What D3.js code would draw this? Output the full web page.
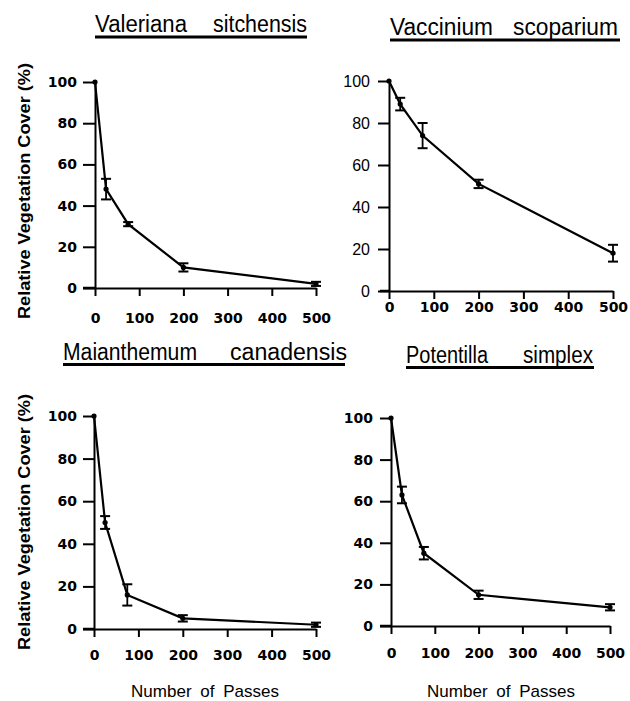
<!DOCTYPE html>
<html>
<head>
<meta charset="utf-8">
<script src="https://cdn.jsdelivr.net/npm/d3@7"></script>
<style>
  body { margin: 0; background: #fff; }
  svg { display: block; }
  .domain, .tick line { stroke: #000; stroke-width: 2; }
</style>
</head>
<body>
<svg class="chart" width="630" height="701"></svg>
<script>
// Data
const passes = [0, 25, 75, 200, 500];
const species = ["Valeriana sitchensis", "Vaccinium scoparium", "Maianthemum canadensis", "Potentilla simplex"];

const valerianaCover = [100, 48, 31, 10, 2];
const valerianaErr   = [0, 5, 1, 2, 1];
const vacciniumCover = [100, 89, 74, 51, 18];
const vacciniumErr   = [0, 3, 6, 2, 4];
const maianthemumCover = [100, 50, 16, 5, 2];
const maianthemumErr   = [0, 3, 5, 1.5, 1];
const potentillaCover = [100, 63, 35, 15, 9];
const potentillaErr   = [0, 4, 3, 2, 1.5];

const xTicks = [0, 100, 200, 300, 400, 500];
const yTicks = [0, 20, 40, 60, 80, 100];
const yTitle = "Relative Vegetation Cover (%)";
const xTitle = "Number of Passes";

const panels = [
  { cover: valerianaCover, err: valerianaErr, left: 95, right: 316, bottom: 288, top: 82,
    boldY: true, yTickSize: 12, yPad: 6, xPad: 17, axisLeftExt: 12,
    words: [[95, 187], [213, 307]], titleY: 32, lineY: 37, lineX: [95, 307],
    yTitlePos: [24, 191], xTitlePos: null },
  { cover: vacciniumCover, err: vacciniumErr, left: 389, right: 613, bottom: 291, top: 81,
    boldY: false, yTickSize: 11, yPad: 8, xPad: 3, axisLeftExt: 9,
    words: [[390, 493], [513, 618]], titleY: 35, lineY: 40, lineX: [390, 620],
    yTitlePos: null, xTitlePos: null },
  { cover: maianthemumCover, err: maianthemumErr, left: 94, right: 316, bottom: 629, top: 416,
    boldY: true, yTickSize: 11, yPad: 6, xPad: 13, axisLeftExt: 11,
    words: [[63, 197], [230, 347]], titleY: 360, lineY: 364.5, lineX: [63, 345],
    yTitlePos: [24, 522], xTitlePos: [205, 697] },
  { cover: potentillaCover, err: potentillaErr, left: 391, right: 610, bottom: 626, top: 418,
    boldY: true, yTickSize: 11, yPad: 7, xPad: 14, axisLeftExt: 11,
    words: [[406, 488], [523, 593]], titleY: 363, lineY: 367.5, lineX: [406, 594],
    yTitlePos: null, xTitlePos: [501, 697] }
];

const svg = d3.select(".chart");
const boldFont = "'DejaVu Sans', Arial, sans-serif";

panels.forEach((p, i) => {
  const x = d3.scaleLinear().domain([0, 500]).range([p.left, p.right]);
  const y = d3.scaleLinear().domain([0, 100]).range([p.bottom, p.top]);
  const g = svg.append("g");

  // y axis
  const gy = g.append("g")
    .attr("transform", `translate(${p.left},0)`)
    .call(d3.axisLeft(y).tickValues(yTicks).tickSize(p.yTickSize).tickSizeOuter(0).tickPadding(p.yPad));
  gy.selectAll("text")
    .attr("fill", "#000")
    .style("font-family", p.boldY ? boldFont : "'Liberation Sans', Arial, sans-serif")
    .style("font-weight", p.boldY ? "bold" : "normal")
    .style("font-size", p.boldY ? "14px" : "16px");

  // x axis
  const gx = g.append("g")
    .attr("transform", `translate(0,${p.bottom})`)
    .call(d3.axisBottom(x).tickValues(xTicks).tickSize(8).tickSizeOuter(0).tickPadding(p.xPad));
  gx.select(".domain").attr("stroke-width", 2.5);
  gx.selectAll("text")
    .attr("fill", "#000")
    .style("font-family", boldFont)
    .style("font-weight", "bold")
    .style("font-size", "14px");
  g.append("line")
    .attr("x1", p.left - p.axisLeftExt).attr("x2", p.left)
    .attr("y1", p.bottom).attr("y2", p.bottom)
    .attr("stroke", "#000").attr("stroke-width", 2.5);

  const pts = passes.map((d, k) => ({ x: d, v: p.cover[k], e: p.err[k] }));

  // data line
  g.append("path")
    .datum(pts)
    .attr("fill", "none")
    .attr("stroke", "#000")
    .attr("stroke-width", 2.2)
    .attr("d", d3.line().x(d => x(d.x)).y(d => y(d.v)));

  // error bars
  const eb = g.selectAll(".eb").data(pts.filter(d => d.e > 0)).enter().append("g");
  eb.append("line")
    .attr("x1", d => x(d.x)).attr("x2", d => x(d.x))
    .attr("y1", d => y(d.v - d.e)).attr("y2", d => y(d.v + d.e))
    .attr("stroke", "#000").attr("stroke-width", 1.8);
  eb.append("line")
    .attr("x1", d => x(d.x) - 5).attr("x2", d => x(d.x) + 5)
    .attr("y1", d => y(d.v + d.e)).attr("y2", d => y(d.v + d.e))
    .attr("stroke", "#000").attr("stroke-width", 2);
  eb.append("line")
    .attr("x1", d => x(d.x) - 5).attr("x2", d => x(d.x) + 5)
    .attr("y1", d => y(d.v - d.e)).attr("y2", d => y(d.v - d.e))
    .attr("stroke", "#000").attr("stroke-width", 2);

  g.selectAll(".pt").data(pts).enter().append("circle")
    .attr("cx", d => x(d.x)).attr("cy", d => y(d.v))
    .attr("r", 2.6).attr("fill", "#000");

  // title, two words spread out and underlined
  species[i].split(" ").forEach((w, k) => {
    const [a, b] = p.words[k];
    g.append("text")
      .attr("x", a).attr("y", p.titleY)
      .attr("textLength", b - a)
      .attr("lengthAdjust", "spacingAndGlyphs")
      .style("font-family", "'Liberation Sans Narrow', 'Arial Narrow', 'Liberation Sans', sans-serif")
      .style("font-size", "23px")
      .text(w);
  });
  g.append("line")
    .attr("x1", p.lineX[0]).attr("x2", p.lineX[1])
    .attr("y1", p.lineY).attr("y2", p.lineY)
    .attr("stroke", "#000").attr("stroke-width", 3);

  if (p.yTitlePos) {
    g.append("text")
      .attr("transform", `translate(${p.yTitlePos[0]},${p.yTitlePos[1]}) rotate(-90)`)
      .attr("text-anchor", "middle")
      .attr("dy", "0.35em")
      .attr("textLength", 256)
      .attr("lengthAdjust", "spacingAndGlyphs")
      .style("font-family", "'Liberation Sans', Arial, sans-serif")
      .style("font-weight", "bold")
      .style("font-size", "16px")
      .text(yTitle);
  }
  if (p.xTitlePos) {
    g.append("text")
      .attr("x", p.xTitlePos[0]).attr("y", p.xTitlePos[1])
      .attr("text-anchor", "middle")
      .style("font-family", "'Liberation Sans', Arial, sans-serif")
      .style("font-size", "17px")
      .style("word-spacing", "4px")
      .text(xTitle);
  }
});
</script>
</body>
</html>
